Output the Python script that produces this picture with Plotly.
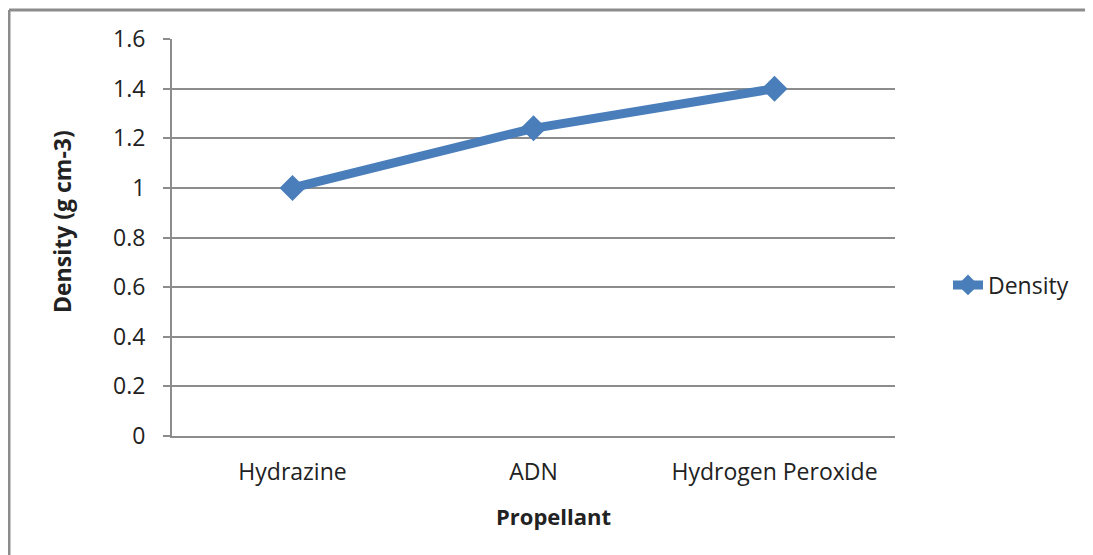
import plotly.graph_objects as go

categories = ["Hydrazine", "ADN", "Hydrogen Peroxide"]
density = [1.0, 1.24, 1.40]
y_ticks = [0, 0.2, 0.4, 0.6, 0.8, 1.0, 1.2, 1.4, 1.6]
y_tick_labels = ["0", "0.2", "0.4", "0.6", "0.8", "1", "1.2", "1.4", "1.6"]

# the page body adds an 8px offset; work in figure coordinates
W, H = 1085, 547
L, T = 164, 31
PR, PB = 887, 428
R, B = W - PR, H - PB
pw, ph = PR - L, PB - T

FONT = "Open Sans"
GRID = "#8c8c8c"
BLUE = "#4A7EBB"
TXT = "#222222"

fig = go.Figure()
fig.add_trace(go.Scatter(
    x=categories, y=density, mode="lines+markers", name="Density",
    line=dict(color=BLUE, width=9),
    marker=dict(symbol="diamond", size=20, color=BLUE),
))

fig.update_layout(
    width=W, height=H,
    margin=dict(l=L, r=R, t=T, b=B, pad=0),
    paper_bgcolor="white", plot_bgcolor="white",
    font=dict(family=FONT, size=23, color=TXT),
    showlegend=True,
    legend=dict(x=(948 - 8 - L) / pw, y=(PB - (285 - 8)) / ph, xanchor="left", yanchor="middle",
                font=dict(family=FONT, size=23, color=TXT),
                bgcolor="rgba(0,0,0,0)"),
    xaxis=dict(type="category", range=[-0.5, 2.5], showgrid=False,
               showline=True, linecolor=GRID, linewidth=2,
               ticks="", ticklabelstandoff=14, zeroline=False,
               tickfont=dict(family=FONT, size=23, color=TXT)),
    yaxis=dict(range=[0, 1.6], tickvals=y_ticks, ticktext=y_tick_labels,
               showgrid=True, gridcolor=GRID, gridwidth=2,
               showline=True, linecolor=GRID, linewidth=2,
               ticks="outside", ticklen=7, tickcolor=GRID, tickwidth=2,
               ticklabelstandoff=13, zeroline=False,
               tickfont=dict(family=FONT, size=23, color=TXT)),
)

# Axis titles
fig.add_annotation(xref="paper", yref="paper", x=(545 - L) / pw, y=-(508 - PB) / ph,
                   text="<b>Propellant</b>", showarrow=False, xanchor="center", yanchor="middle",
                   font=dict(family=FONT, size=22, color=TXT))
fig.add_annotation(xref="paper", yref="paper", x=-(L - 54) / pw, y=(PB - 214) / ph,
                   text="<b>Density (g cm-3)</b>", showarrow=False, textangle=-90,
                   xanchor="center", yanchor="middle",
                   font=dict(family=FONT, size=23, color=TXT))

# Chart border (top and left visible)
bx0 = (1 - L) / pw
by1 = 1 + (T - 2) / ph
fig.add_shape(type="line", xref="paper", yref="paper", x0=bx0, x1=(W + 20 - L) / pw,
              y0=by1, y1=by1, line=dict(color="#8c8c8c", width=3))
fig.add_shape(type="line", xref="paper", yref="paper", x0=bx0, x1=bx0,
              y0=by1, y1=-(H + 20 - PB) / ph, line=dict(color="#8c8c8c", width=3))

fig.write_html("out.html")
